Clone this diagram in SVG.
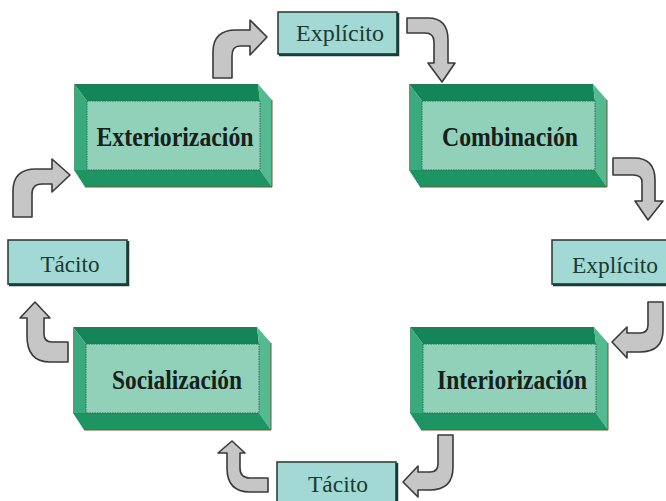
<svg xmlns="http://www.w3.org/2000/svg" xmlns:xlink="http://www.w3.org/1999/xlink" width="666" height="501" viewBox="0 0 666 501">
<style>
.top{fill:#148558}
.left{fill:#3aa97c}
.right{fill:#55b991}
.bot{fill:#1c9563}
.face{fill:#91d1b9;stroke:#2a6e52;stroke-width:1;stroke-dasharray:1.5 1}
.shadow{fill:none;stroke:#8a4b3c;stroke-width:1}
.big{font-family:"Liberation Serif",serif;font-weight:bold;font-size:27px;fill:#16201c;text-anchor:middle}
.lbl{fill:#a2d9d4;stroke:#1d3a35;stroke-width:1.5}
.lblsh{fill:none;stroke:#1d3a35;stroke-width:2.5}
.small{font-family:"Liberation Serif",serif;font-size:23px;fill:#1a3a33;text-anchor:middle}
.arrow{fill:#c6c6c6;stroke:#3a3a3a;stroke-width:1.6;stroke-linejoin:round}
</style>
<defs>
<g id="block">
<polygon class="top" points="0,0 184,0 186,17 13,17"/>
<polygon class="left" points="0,0 13,17 13,86 0,86"/>
<polygon class="right" points="184,0 198,16 198,103 186,86 186,17"/>
<polygon class="bot" points="13,86 186,86 198,103 11,103 0,86"/>
<rect class="face" x="13" y="17" width="173" height="69"/>
<polyline class="shadow" points="198,16 198,103 11,103"/>
</g>
</defs>
<g id="connectors">
<path class="arrow" d="M213,78 L213,52 Q213,30 236,30 L250,30 L250,20 L267,37 L250,55 L250,46 L240,46 Q232,46 232,56 L232,78 Z"/>
<path class="arrow" d="M407,18 L428,18 Q448,18 448,40 L448,63 L455,63 L442,82 L428,63 L434,63 L434,42 Q434,33 425,33 L407,33 Z"/>
<path class="arrow" d="M613,158 L634,158 Q655,158 655,180 L655,201 L663,201 L648,220 L635,201 L642,201 L642,182 Q642,175 633,175 L613,175 Z"/>
<path class="arrow" d="M648,302 L663,302 L663,330 Q663,352 640,352 L627,352 L627,358 L612,342 L627,327 L627,333 L640,333 Q648,333 648,325 Z"/>
<path class="arrow" d="M438,435 L453,435 L453,467 Q453,490 430,490 L418,490 L418,497 L403,482 L418,466 L418,472 L430,472 Q438,472 438,464 Z"/>
<path class="arrow" d="M268,478 L250,478 Q240,478 240,468 L240,453 L245,453 L232,441 L218,453 L227,453 L227,468 Q227,492 250,492 L268,492 Z"/>
<path class="arrow" d="M68,342 L52,342 Q44,342 44,334 L44,318 L50,318 L35,302 L20,318 L27,318 L27,336 Q27,362 50,362 L68,362 Z"/>
<path class="arrow" d="M13,217 L13,191 Q13,169 36,169 L52,169 L52,159 L70,175 L52,192 L52,184 L42,184 Q32,184 32,194 L32,217 Z"/>
</g>
<g id="exteriorizacion">
<use xlink:href="#block" x="74" y="84"/>
<text class="big" x="175" y="146" textLength="157" lengthAdjust="spacingAndGlyphs">Exteriorización</text>
</g>
<g id="combinacion">
<use xlink:href="#block" x="409" y="84"/>
<text class="big" x="510" y="146" textLength="136" lengthAdjust="spacingAndGlyphs">Combinación</text>
</g>
<g id="socializacion">
<use xlink:href="#block" x="73" y="327"/>
<text class="big" x="177" y="389" textLength="130" lengthAdjust="spacingAndGlyphs">Socialización</text>
</g>
<g id="interiorizacion">
<use xlink:href="#block" x="410" y="327"/>
<text class="big" x="512" y="389" textLength="150" lengthAdjust="spacingAndGlyphs">Interiorización</text>
</g>
<g id="explicito-top">
<rect class="lbl" x="278" y="12" width="119" height="42"/>
<polyline class="lblsh" points="279,55 398,55 398,13"/>
<text class="small" x="340" y="41" textLength="88" lengthAdjust="spacingAndGlyphs">Explícito</text>
</g>
<g id="tacito-left">
<rect class="lbl" x="8" y="240" width="119" height="44"/>
<polyline class="lblsh" points="9,285 128,285 128,241"/>
<text class="small" x="70" y="272" textLength="59" lengthAdjust="spacingAndGlyphs">Tácito</text>
</g>
<g id="explicito-right">
<rect class="lbl" x="552" y="240" width="116" height="44"/>
<polyline class="lblsh" points="553,285 668,285"/>
<text class="small" x="615" y="273" textLength="86" lengthAdjust="spacingAndGlyphs">Explícito</text>
</g>
<g id="tacito-bottom">
<rect class="lbl" x="277" y="462" width="119" height="44"/>
<polyline class="lblsh" points="397,463 397,506"/>
<text class="small" x="338" y="492" textLength="60" lengthAdjust="spacingAndGlyphs">Tácito</text>
</g>
</svg>
